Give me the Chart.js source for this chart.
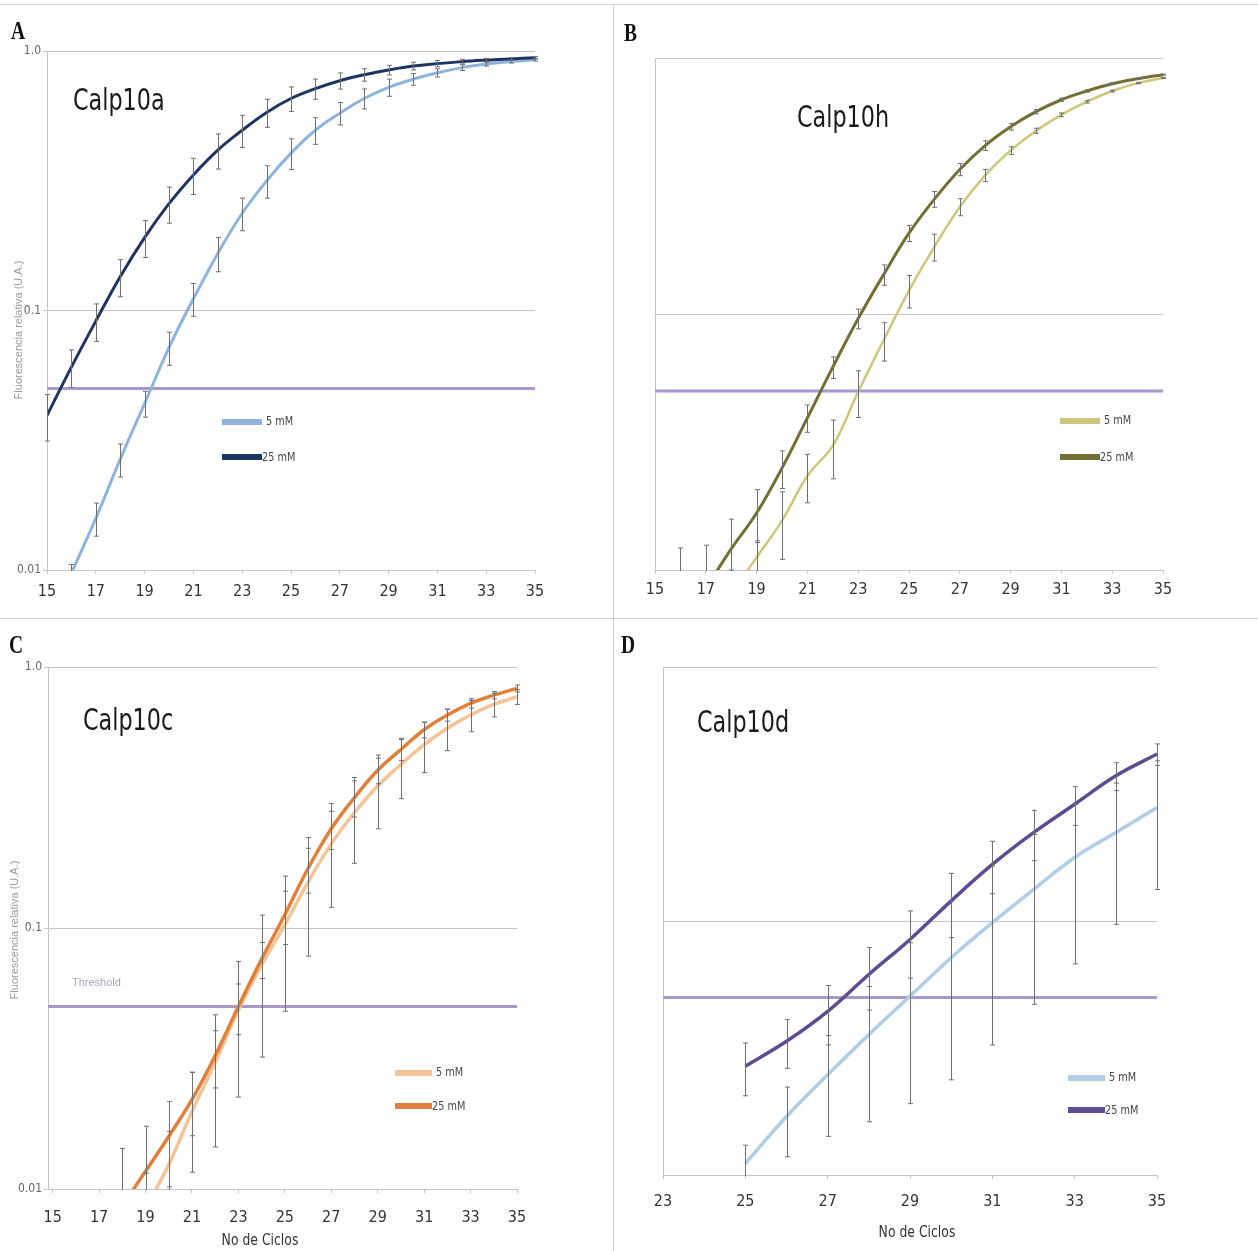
<!DOCTYPE html>
<html><head><meta charset="utf-8">
<script src="https://cdn.jsdelivr.net/npm/chart.js@4.4.1/dist/chart.umd.min.js"></script>
<style>
body{margin:0;background:#fff;width:1258px;height:1251px;position:relative;overflow:hidden;font-family:'Liberation Sans Narrow','DejaVu Sans Condensed',sans-serif;}
canvas{position:absolute;}
.hl{position:absolute;background:#cfcfcf;}
.letter{position:absolute;font-family:'Liberation Serif','DejaVu Serif',serif;font-weight:bold;font-size:26px;color:#111;transform:scaleX(0.75);transform-origin:left top;line-height:1;}
.title{position:absolute;font-size:31px;color:#1a1a1a;line-height:1;transform:scaleX(0.8);transform-origin:left top;white-space:nowrap;}
.leg{position:absolute;font-size:12px;color:#444;line-height:1;transform:scaleX(0.9);transform-origin:left top;white-space:nowrap;}
.bar{position:absolute;height:6px;width:40px;}
.ytitle{position:absolute;font-family:'Liberation Sans','DejaVu Sans',sans-serif;font-size:11px;color:#9a9a9a;white-space:nowrap;transform:translate(-50%,-50%) rotate(-90deg);}
.xtitle{position:absolute;font-size:15px;color:#333;white-space:nowrap;transform:translate(-50%,-50%) scaleX(0.92);}
.thr{position:absolute;font-family:'Liberation Sans','DejaVu Sans',sans-serif;font-size:11px;color:#a99fcc;}
</style></head><body>
<div class="hl" style="left:0;top:4px;width:1258px;height:1px"></div>
<div class="hl" style="left:0;top:618px;width:1258px;height:1px"></div>
<div class="hl" style="left:613px;top:4px;width:1px;height:1247px"></div>

<canvas id="cA" width="612" height="617" style="left:0;top:0"></canvas>
<canvas id="cB" width="644" height="617" style="left:614px;top:0"></canvas>
<canvas id="cC" width="612" height="631" style="left:0;top:620px"></canvas>
<canvas id="cD" width="644" height="631" style="left:614px;top:620px"></canvas>

<div class="letter" style="left:11px;top:18px">A</div>
<div class="letter" style="left:624px;top:20px">B</div>
<div class="letter" style="left:9px;top:632px">C</div>
<div class="letter" style="left:621px;top:632px">D</div>

<div class="title" style="left:73px;top:84px">Calp10a</div>
<div class="title" style="left:797px;top:101px">Calp10h</div>
<div class="title" style="left:83px;top:704px">Calp10c</div>
<div class="title" style="left:697px;top:706px">Calp10d</div>

<div class="ytitle" style="left:18px;top:330px">Fluorescencia relativa (U.A.)</div>
<div class="ytitle" style="left:14px;top:930px">Fluorescencia relativa (U.A.)</div>
<div class="thr" style="left:72px;top:976px">Threshold</div>
<div class="xtitle" style="left:260px;top:1240px">No de Ciclos</div>
<div class="xtitle" style="left:917px;top:1232px">No de Ciclos</div>

<div id="legends"></div>

<script>
// ---------- DATA ----------
const cyclesA = [15,16,17,18,19,20,21,22,23,24,25,26,27,28,29,30,31,32,33,34,35];
const a5   = [0.0058,0.0097,0.0158,0.0267,0.0438,0.072,0.111,0.166,0.237,0.316,0.404,0.495,0.576,0.656,0.724,0.778,0.824,0.863,0.891,0.91,0.925];
const a5Err= [0,0.0008,0.0023,0.0039,0.005,0.0105,0.016,0.025,0.034,0.045,0.055,0.058,0.057,0.058,0.055,0.04,0.03,0.022,0.016,0.012,0.01];
const a25  = [0.0394,0.0605,0.091,0.135,0.191,0.258,0.333,0.415,0.495,0.58,0.656,0.716,0.768,0.81,0.845,0.875,0.894,0.91,0.922,0.932,0.942];
const a25Err=[0.008,0.010,0.015,0.022,0.031,0.041,0.053,0.064,0.07,0.072,0.071,0.064,0.055,0.045,0.036,0.03,0.025,0.019,0.015,0.012,0.01];

const cyclesB = [15,16,17,18,19,20,21,22,23,24,25,26,27,28,29,30,31,32,33,34,35];
const b5   = [0.0026,0.0037,0.0054,0.008,0.0112,0.0156,0.0233,0.0306,0.0497,0.079,0.1235,0.183,0.262,0.348,0.435,0.52,0.6,0.675,0.743,0.798,0.836];
const b5Err= [0,0,0,0.002,0.0018,0.0046,0.005,0.0079,0.0103,0.0135,0.018,0.022,0.02,0.019,0.015,0.012,0.01,0.008,0.006,0.005,0.004];
const b25  = [0.0045,0.0062,0.0085,0.0121,0.0167,0.025,0.0393,0.062,0.096,0.1425,0.207,0.281,0.367,0.455,0.539,0.617,0.687,0.743,0.793,0.83,0.861];
const b25Err=[0,0.006,0.004,0.0037,0.0039,0.0042,0.0048,0.006,0.0085,0.013,0.015,0.02,0.02,0.02,0.016,0.012,0.01,0.008,0.006,0.005,0.004];

const cyclesC = [17,18,19,20,21,22,23,24,25,26,27,28,29,30,31,32,33,34,35];
const c5   = [0.0050,0.0063,0.0085,0.0124,0.0198,0.0305,0.0485,0.072,0.103,0.15,0.21,0.277,0.35,0.423,0.504,0.583,0.655,0.719,0.769];
const c5Err= [0,0,0.003,0.0042,0.0082,0.016,0.026,0.04,0.055,0.072,0.09,0.1,0.11,0.11,0.11,0.105,0.09,0.075,0.05];
const c25  = [0.0068,0.0087,0.0117,0.0159,0.022,0.0324,0.05,0.076,0.1124,0.169,0.24,0.316,0.402,0.483,0.575,0.655,0.726,0.78,0.828];
const c25Err=[0,0.0056,0.0057,0.0057,0.006,0.008,0.011,0.012,0.026,0.033,0.04,0.05,0.045,0.045,0.04,0.035,0.03,0.025,0.025];

const cyclesD = [25,26,27,28,29,30,31,32,33,34,35];
const d5   = [0.0111,0.0170,0.0248,0.0357,0.0506,0.0717,0.0985,0.133,0.1778,0.223,0.28];
const d5Err= [0.002,0.0052,0.0106,0.0195,0.0315,0.048,0.066,0.086,0.11,0.126,0.147];
const d25  = [0.0268,0.0336,0.0441,0.0616,0.0846,0.12,0.167,0.2227,0.288,0.373,0.454];
const d25Err=[0.0063,0.0073,0.0116,0.017,0.025,0.034,0.039,0.05,0.05,0.047,0.044];

const threshold = 0.05;
const yTickValues = [0.01, 0.1, 1];
const xTicks15 = [15,17,19,21,23,25,27,29,31,33,35];
const xTicks23 = [23,25,27,29,31,33,35];
const seriesLabels = ['5 mM', '25 mM'];

// ---------- RENDER ----------
const NARROW = "'Liberation Sans Narrow','DejaVu Sans Condensed',sans-serif";
const pts = (xs, ys) => xs.map((x,i)=>({x:x, y:ys[i]}));

const errPlugin = {
  id:'errbars',
  afterDatasetsDraw(chart){
    const {ctx, chartArea:a, scales:{x,y}} = chart;
    ctx.save();
    ctx.beginPath(); ctx.rect(a.left-4, a.top-2, a.right-a.left+8, a.bottom-a.top+3); ctx.clip();
    ctx.strokeStyle = '#6f6f6f'; ctx.lineWidth = 1;
    chart.data.datasets.forEach(ds=>{
      if(!ds.errs) return;
      ds.data.forEach((p,i)=>{
        const e = ds.errs[i]; if(!e) return;
        const px = Math.round(x.getPixelForValue(p.x)) + 0.5;
        const t = y.getPixelForValue(p.y + e);
        const lo = p.y - e;
        const b = lo > 0 ? y.getPixelForValue(lo) : a.bottom + 20;
        ctx.beginPath();
        ctx.moveTo(px, t); ctx.lineTo(px, b);
        ctx.moveTo(px-2.5, t); ctx.lineTo(px+2.5, t);
        ctx.moveTo(px-2.5, b); ctx.lineTo(px+2.5, b);
        ctx.stroke();
      });
    });
    ctx.restore();
  }
};

function build(id, p){
  const el = document.getElementById(id);
  const W = el.width, H = el.height;
  new Chart(el, {
    type:'line',
    data:{datasets:[
      {label:seriesLabels[1], data:pts(p.cyc,p.v25), errs:p.e25, borderColor:p.c25, borderWidth:p.w25, pointRadius:0, tension:0.4, order:1},
      {label:seriesLabels[0], data:pts(p.cyc,p.v5), errs:p.e5, borderColor:p.c5, borderWidth:p.w5, pointRadius:0, tension:0.4, order:2},
      {label:'Threshold', data:[{x:p.xmin,y:threshold},{x:p.xmax,y:threshold}], borderColor:'#a898cc', borderWidth:3, pointRadius:0, order:3}
    ]},
    options:{
      responsive:false, animation:false, devicePixelRatio:1,
      layout:{padding:{left:0, top:p.area.t, right:W-p.area.r, bottom:0}},
      plugins:{legend:{display:false}, tooltip:{enabled:false}},
      scales:{
        x:{type:'linear', min:p.xmin, max:p.xmax,
          afterBuildTicks:s=>{ s.ticks = p.xticks.map(v=>({value:v})); },
          afterFit:s=>{ s.height = H - p.area.b; },
          grid:{drawOnChartArea:false, color:'#c4c4c4', tickLength:4},
          border:{color:'#c4c4c4'},
          ticks:{padding:p.xpad, color:'#333', font:{family:NARROW, size:16}, maxRotation:0, autoSkip:false}
        },
        y:{type:'logarithmic', min:0.01, max:1,
          afterBuildTicks:s=>{ s.ticks = yTickValues.map(v=>({value:v})); },
          afterFit:s=>{ s.width = p.area.l; },
          grid:{color:'#c4c4c4', tickLength:p.yLabels?4:0},
          border:{color:'#c4c4c4'},
          ticks:{display:p.yLabels, padding:2, color:'#666', font:{family:NARROW, size:12},
                 callback:v=> v===1 ? '1.0' : String(v)}
        }
      }
    },
    plugins:[errPlugin]
  });
  const lg = document.getElementById('legends');
  const L = p.legend;
  lg.insertAdjacentHTML('beforeend',
    `<div class="bar" style="left:${L.x}px;top:${L.y1-3}px;width:${L.w}px;background:${p.c5}"></div>`+
    `<div class="leg" style="left:${L.x+L.w+4}px;top:${L.y1-7}px">${seriesLabels[0]}</div>`+
    `<div class="bar" style="left:${L.x}px;top:${L.y2-3}px;width:${L.w}px;background:${p.c25}"></div>`+
    `<div class="leg" style="left:${L.x+L.w}px;top:${L.y2-6}px">${seriesLabels[1]}</div>`);
}

build('cA', {cyc:cyclesA, v5:a5, e5:a5Err, v25:a25, e25:a25Err, c5:'#8fb4db', c25:'#1f3561', w5:3, w25:3,
  xmin:15, xmax:35, xticks:xTicks15, xpad:8, yLabels:true, area:{l:47,r:535,t:51,b:570},
  legend:{x:222,w:40,y1:422,y2:457}});
build('cB', {cyc:cyclesB, v5:b5, e5:b5Err, v25:b25, e25:b25Err, c5:'#cdc67b', c25:'#736e33', w5:2.5, w25:3,
  xmin:15, xmax:35, xticks:xTicks15, xpad:6, yLabels:false, area:{l:41,r:549,t:58,b:570},
  legend:{x:1060,w:40,y1:421,y2:457}});
build('cC', {cyc:cyclesC, v5:c5, e5:c5Err, v25:c25, e25:c25Err, c5:'#f4c397', c25:'#e0803a', w5:3.5, w25:3.5,
  xmin:14.8, xmax:35, xticks:xTicks15, xpad:15, yLabels:true, area:{l:48,r:517,t:47,b:569},
  legend:{x:395,w:37,y1:1073,y2:1106}});
build('cD', {cyc:cyclesD, v5:d5, e5:d5Err, v25:d25, e25:d25Err, c5:'#b0cde6', c25:'#5f4b91', w5:3.5, w25:3.5,
  xmin:23, xmax:35, xticks:xTicks23, xpad:13, yLabels:false, area:{l:49,r:543,t:47,b:555},
  legend:{x:1068,w:37,y1:1078,y2:1110}});
</script>
</body></html>
